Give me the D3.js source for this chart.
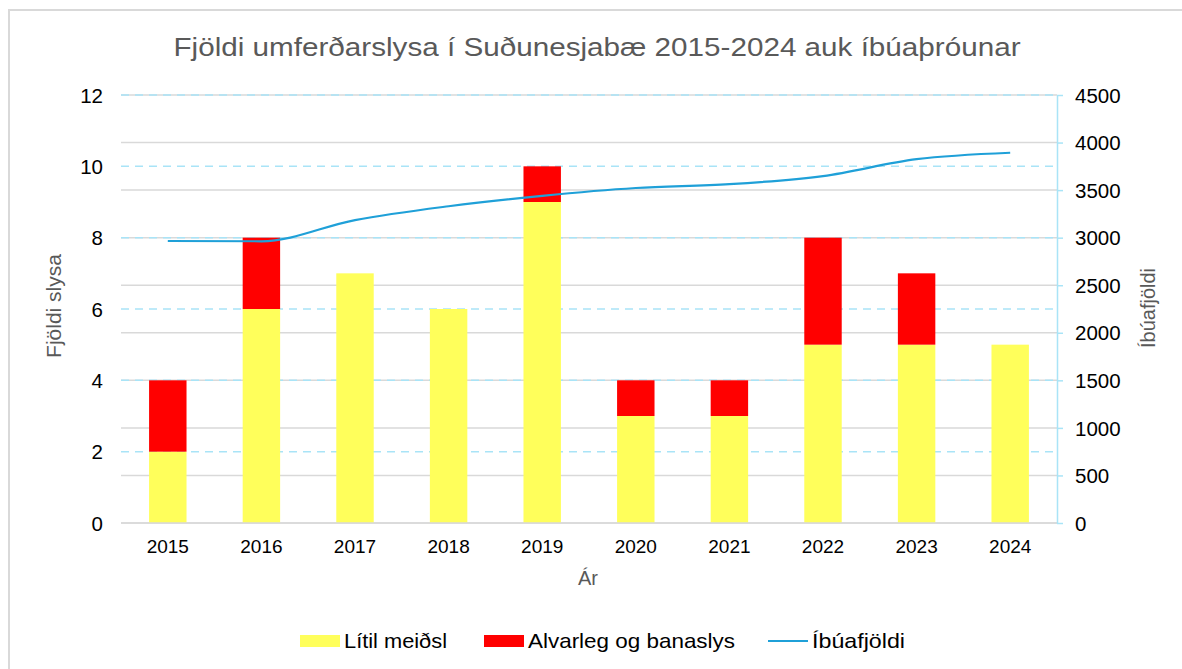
<!DOCTYPE html>
<html>
<head>
<meta charset="utf-8">
<script src="https://cdn.jsdelivr.net/npm/d3@7"></script>
<style>
  body { margin: 0; background: #fff; }
  svg { display: block; font-family: "Liberation Sans", Arial, sans-serif; }
</style>
</head>
<body>
<div id="chart"></div>
<script>
// data
var years = ['2015', '2016', '2017', '2018', '2019', '2020', '2021', '2022', '2023', '2024'];
var litilMeidsl = [2, 6, 7, 6, 9, 3, 3, 5, 5, 5];
var alvarleg = [2, 2, 0, 0, 1, 1, 1, 3, 2, 0];
var ibuafjoldi = [2965, 2962, 3185, 3330, 3440, 3522, 3562, 3648, 3825, 3893];
var leftTicks = [0, 2, 4, 6, 8, 10, 12];
var rightTicks = [0, 500, 1000, 1500, 2000, 2500, 3000, 3500, 4000, 4500];

var width = 1182, height = 669;
var plot = {left: 121, right: 1057, top: 95, bottom: 523};

var svg = d3.select('#chart').append('svg')
    .attr('width', width)
    .attr('height', height);

// chart frame
svg.append('rect')
    .attr('x', 9).attr('y', 10)
    .attr('width', width + 20).attr('height', height + 20)
    .style('fill', '#fff')
    .style('stroke', '#d9d9d9')
    .style('stroke-width', 2);

var x = d3.scaleBand().domain(years).range([plot.left, plot.right]).paddingInner(0.6).paddingOuter(0.3);
var xPoint = function (d) { return x(d) + x.bandwidth() / 2 };
var yLeft = d3.scaleLinear().domain([0, 12]).range([plot.bottom, plot.top]);
var yRight = d3.scaleLinear().domain([0, 4500]).range([plot.bottom, plot.top]);

// grey gridlines from the right axis
svg.append('g').selectAll('line')
    .data(rightTicks)
    .enter().append('line')
    .attr('x1', plot.left).attr('x2', plot.right)
    .attr('y1', function (d) { return yRight(d) })
    .attr('y2', function (d) { return yRight(d) })
    .style('stroke', '#d9d9d9')
    .style('stroke-width', 1.5);

// dashed light blue gridlines from the left axis
svg.append('g').selectAll('line')
    .data(leftTicks.filter(function (d) { return d > 0 }))
    .enter().append('line')
    .attr('x1', plot.left).attr('x2', plot.right)
    .attr('y1', function (d) { return yLeft(d) })
    .attr('y2', function (d) { return yLeft(d) })
    .style('stroke', '#a9e4f7')
    .style('stroke-width', 1.5)
    .style('stroke-dasharray', '8,6');

// stacked bars
var stack = years.map(function (y, i) {
    return {year: y, low: litilMeidsl[i], high: alvarleg[i]}
});

svg.append('g').selectAll('rect')
    .data(stack)
    .enter().append('rect')
    .attr('x', function (d) { return x(d.year) })
    .attr('width', x.bandwidth())
    .attr('y', function (d) { return yLeft(d.low) })
    .attr('height', function (d) { return yLeft(0) - yLeft(d.low) })
    .style('fill', '#ffff5b');

svg.append('g').selectAll('rect')
    .data(stack.filter(function (d) { return d.high > 0 }))
    .enter().append('rect')
    .attr('x', function (d) { return x(d.year) })
    .attr('width', x.bandwidth())
    .attr('y', function (d) { return yLeft(d.low + d.high) })
    .attr('height', function (d) { return yLeft(d.low) - yLeft(d.low + d.high) })
    .style('fill', '#ff0000');

// population line
var line = d3.line()
    .x(function (d, i) { return xPoint(years[i]) })
    .y(function (d) { return yRight(d) })
    .curve(d3.curveMonotoneX);

svg.append('path')
    .datum(ibuafjoldi)
    .attr('d', line)
    .style('fill', 'none')
    .style('stroke', '#1fa0d8')
    .style('stroke-width', 2.2);

// x axis baseline
svg.append('line')
    .attr('x1', plot.left).attr('x2', plot.right)
    .attr('y1', plot.bottom).attr('y2', plot.bottom)
    .style('stroke', '#d9d9d9')
    .style('stroke-width', 1.5);

// left axis labels
var leftAxis = svg.append('g')
    .attr('transform', 'translate(' + (plot.left - 18) + ',0)')
    .call(d3.axisLeft(yLeft).tickValues(leftTicks).tickSize(0).tickPadding(0));
leftAxis.select('.domain').remove();
leftAxis.selectAll('text')
    .style('font-size', '20.5px')
    .style('fill', '#000')
    .attr('dy', '0.35em');

// right axis, light blue line with outward ticks
var rightAxis = svg.append('g')
    .attr('transform', 'translate(' + plot.right + ',0)')
    .call(d3.axisRight(yRight).tickValues(rightTicks).tickFormat(d3.format('d'))
        .tickSize(6).tickPadding(12).tickSizeOuter(0));
rightAxis.select('.domain').style('stroke', '#a9e4f7').style('stroke-width', 1.5);
rightAxis.selectAll('.tick line').style('stroke', '#a9e4f7').style('stroke-width', 1.5);
rightAxis.selectAll('text')
    .style('font-size', '20.5px')
    .style('fill', '#000')
    .attr('dy', '0.35em');

// x axis labels
var bottomAxis = svg.append('g')
    .attr('transform', 'translate(0,' + plot.bottom + ')')
    .call(d3.axisBottom(x).tickSize(0).tickPadding(17));
bottomAxis.select('.domain').remove();
bottomAxis.selectAll('text')
    .style('font-size', '19px')
    .style('fill', '#000')
    .attr('dy', '0.71em');

// titles
svg.append('text')
    .attr('x', 597).attr('y', 56)
    .attr('text-anchor', 'middle')
    .attr('textLength', 847)
    .attr('lengthAdjust', 'spacingAndGlyphs')
    .style('font-size', '26px')
    .style('fill', '#595959')
    .text('Fjöldi umferðarslysa í Suðunesjabæ 2015-2024 auk íbúaþróunar');

svg.append('text')
    .attr('transform', 'translate(61,306) rotate(-90)')
    .attr('text-anchor', 'middle')
    .style('font-size', '21px')
    .style('fill', '#595959')
    .text('Fjöldi slysa');

svg.append('text')
    .attr('transform', 'translate(1155,308) rotate(-90)')
    .attr('text-anchor', 'middle')
    .style('font-size', '20px')
    .style('fill', '#595959')
    .text('Íbúafjöldi');

svg.append('text')
    .attr('x', 588).attr('y', 585)
    .attr('text-anchor', 'middle')
    .style('font-size', '20px')
    .style('fill', '#595959')
    .text('Ár');

// legend
var legendItems = [
    {label: 'Lítil meiðsl', color: '#ffff5b', type: 'rect', x: 300, len: 103},
    {label: 'Alvarleg og banaslys', color: '#ff0000', type: 'rect', x: 484, len: 207},
    {label: 'Íbúafjöldi', color: '#1fa0d8', type: 'line', x: 768, len: 93}
];

var legend = svg.append('g').attr('transform', 'translate(0,641)');
legendItems.forEach(function (d) {
    if (d.type == 'rect') {
        legend.append('rect')
            .attr('x', d.x).attr('y', -6)
            .attr('width', 40).attr('height', 12)
            .style('fill', d.color);
    }
    else {
        legend.append('line')
            .attr('x1', d.x).attr('x2', d.x + 40)
            .attr('y1', 0).attr('y2', 0)
            .style('stroke', d.color)
            .style('stroke-width', 2.2);
    }
    legend.append('text')
        .attr('x', d.x + 44).attr('y', 0)
        .attr('dy', '0.35em')
        .attr('textLength', d.len)
        .attr('lengthAdjust', 'spacingAndGlyphs')
        .style('font-size', '21px')
        .style('fill', '#000')
        .text(d.label);
});
</script>
</body>
</html>
